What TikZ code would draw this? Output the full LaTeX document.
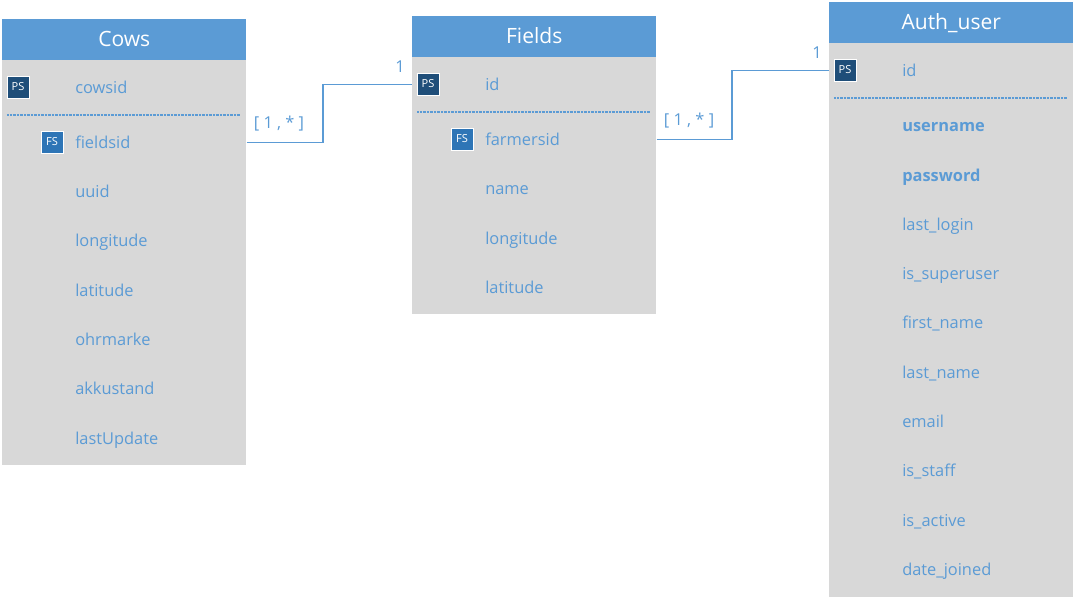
\documentclass[tikz,border=0pt]{standalone}
\usepackage{fontspec}
\setmainfont{Open Sans}
\definecolor{hdr}{HTML}{5B9BD5}
\definecolor{bodyc}{HTML}{D8D8D8}
\definecolor{ps}{HTML}{1F4E79}
\definecolor{fs}{HTML}{2E75B6}
\definecolor{fld}{HTML}{5B9BD5}
\tikzset{
  x=0.75pt,y=-0.75pt,
  header/.style={fill=hdr,draw=none,minimum width=183pt,minimum height=30.4pt,inner sep=0pt,text=white,text height=14pt,text depth=3.4pt,font=\fontsize{15.8}{17}\selectfont,anchor=north west},
  tbody/.style={fill=bodyc,draw=none,minimum width=183pt,inner sep=0pt,anchor=north west},
  field/.style={text=fld,font=\fontsize{12.3}{14}\selectfont,anchor=base west,inner sep=0pt},
  keybox/.style={draw=white,line width=0.6pt,minimum width=16.5pt,minimum height=16.5pt,inner sep=0pt,text=white,font=\fontsize{8.3}{9}\selectfont},
  pskey/.style={keybox,fill=ps},
  fskey/.style={keybox,fill=fs},
  sep/.style={draw=fld,line width=0.9pt,dash pattern=on 0.75pt off 0.3pt},
  link/.style={draw=fld,line width=0.85pt},
  mult/.style={text=fld,font=\fontsize{12.3}{14}\selectfont,inner sep=0pt},
}
\newcommand{\rowtext}[3]{\node[field] (#1) at (#2) {\vphantom{g}#3};}
\begin{document}
\begin{tikzpicture}
\useasboundingbox (0,0) rectangle (1076,599);
% Cows
\node[header] (cowsh) at (2,19) {Cows};
\node[tbody,minimum height=303.75pt] (cowsb) at (2,60) {};
\node[pskey] (cowspk) at (18,87) {PS};
\draw[sep] (7,115) -- (240,115);
\node[fskey] (cowsfk) at (52,142) {FS};
\rowtext{c1}{75,94}{cowsid}
\rowtext{c2}{75,149}{fieldsid}
\rowtext{c3}{75,198}{uuid}
\rowtext{c4}{75,247}{longitude}
\rowtext{c5}{75,297}{latitude}
\rowtext{c6}{75,345}{ohrmarke}
\rowtext{c7}{75,394}{akkustand}
\rowtext{c8}{75,444}{lastUpdate}
% Fields
\node[header] (fieldsh) at (412,16) {Fields};
\node[tbody,minimum height=192.75pt] (fieldsb) at (412,57) {};
\node[pskey] (fieldspk) at (428,84) {PS};
\draw[sep] (417,112) -- (650,112);
\node[fskey] (fieldsfk) at (462,139) {FS};
\rowtext{f1}{485,91}{id}
\rowtext{f2}{485,146}{farmersid}
\rowtext{f3}{485,195}{name}
\rowtext{f4}{485,245}{longitude}
\rowtext{f5}{485,294}{latitude}
% Auth_user
\node[header] (authh) at (829,2) {Auth\_user};
\node[tbody,minimum height=415.5pt] (authb) at (829,43) {};
\node[pskey] (authpk) at (845,70) {PS};
\draw[sep] (834,98) -- (1067,98);
\rowtext{a1}{902,77}{id}
\rowtext{a2}{902,132}{\textbf{username}}
\rowtext{a3}{902,182}{\textbf{password}}
\rowtext{a4}{902,231}{last\_login}
\rowtext{a5}{902,280}{is\_superuser}
\rowtext{a6}{902,329}{first\_name}
\rowtext{a7}{902,378.6}{last\_name}
\rowtext{a8}{902,427}{email}
\rowtext{a9}{902,476}{is\_staff}
\rowtext{a10}{902,526}{is\_active}
\rowtext{a11}{902,575}{date\_joined}
% connectors
\coordinate (cowsout) at ([yshift=-0.4pt]cowsb.east |- cowsfk);
\coordinate (fieldsin) at ([yshift=-0.4pt]fieldsb.west |- fieldspk);
\coordinate (fieldsout) at ([yshift=-0.4pt]fieldsb.east |- fieldsfk);
\coordinate (authin) at ([yshift=-0.4pt]authb.west |- authpk);
\coordinate (m1) at (323,0);
\coordinate (m2) at (732,0);
\draw[link] (cowsout) -- (m1 |- cowsout) -- (m1 |- fieldsin) -- (fieldsin);
\draw[link] (fieldsout) -- (m2 |- fieldsout) -- (m2 |- authin) -- (authin);
\node[mult] (l1) at (279,124) {[ 1 , * ]};
\node[mult] (l2) at (400,67) {1};
\node[mult] (l3) at (689,121) {[ 1 , * ]};
\node[mult] (l4) at (817,53) {1};
\end{tikzpicture}
\end{document}
